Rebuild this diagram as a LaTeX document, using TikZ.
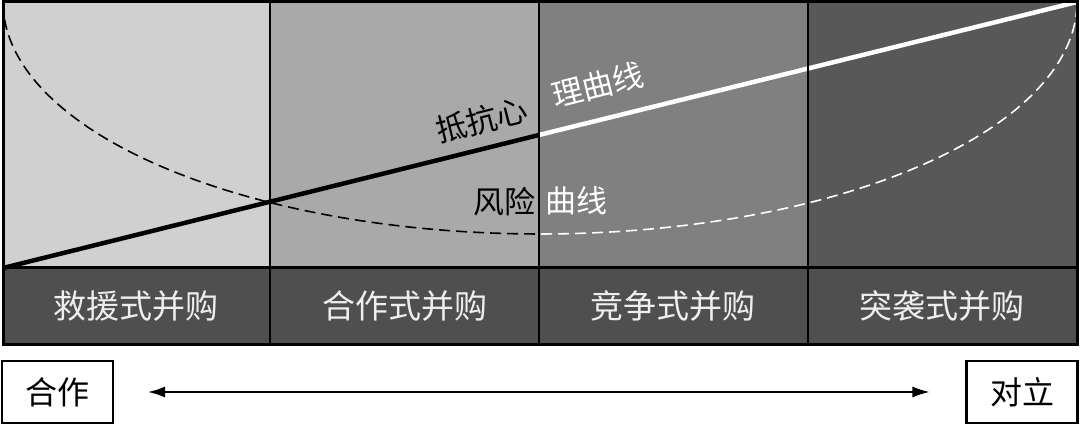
\documentclass[tikz,border=0pt]{standalone}
\usepackage{fontspec}
\newfontfamily\cjk{Noto Sans CJK SC}
\usetikzlibrary{arrows.meta}
\definecolor{colA}{HTML}{D0D0D0}
\definecolor{colB}{HTML}{A9A9A9}
\definecolor{colC}{HTML}{808080}
\definecolor{colD}{HTML}{585858}
\definecolor{band}{HTML}{4F4F4F}
\definecolor{bandtext}{HTML}{EEEEEE}
\tikzset{
  panel/.style={draw=black, line width=3pt},
  bandlabel/.style={text=bandtext, font=\cjk\fontsize{33}{33}\selectfont, inner sep=0pt},
  curvelabel/.style={font=\cjk\fontsize{31}{31}\selectfont, inner sep=0pt},
  endbox/.style={draw=black, line width=2.2pt, fill=white, font=\cjk\fontsize{32}{32}\selectfont, minimum width=111pt, minimum height=62pt, inner sep=0pt},
  riskcurve/.style={line width=1.6pt, dash pattern=on 11pt off 6pt},
  resist/.style={line width=4.5pt}
}
\begin{document}
\begin{tikzpicture}[x=1pt,y=-1pt]
\useasboundingbox (0,0) rectangle (1080,427);
% columns
\fill[colA] (3,2) rectangle (270,268);
\fill[colB] (270,2) rectangle (539,268);
\fill[colC] (539,2) rectangle (808,268);
\fill[colD] (808,2) rectangle (1077,268);
% band
\fill[band] (3,268) rectangle (1077,345);
% risk curve (half ellipse)
\begin{scope}
\clip (3,0) rectangle (539,268);
\draw[riskcurve, black] plot[domain=180:360, samples=160] ({540+537*cos(\x)}, {2-232*sin(\x)});
\end{scope}
\begin{scope}
\clip (539,0) rectangle (1077,268);
\draw[riskcurve, white] plot[domain=180:360, samples=160] ({540+537*cos(\x)}, {2-232*sin(\x)});
\end{scope}
% resistance line
\coordinate (r0) at (3,268);
\coordinate (rm) at (539,135);
\coordinate (r1) at (1077,2);
\draw[resist, black] (r0) -- (rm);
\draw[resist, white] (rm) -- (r1);
% grid lines
\draw[line width=2.5pt] (270,2) -- (270,345) (539,2) -- (539,345) (808,2) -- (808,345);
\draw[line width=3pt] (3,268) -- (1077,268);
\draw[panel] (3,2) rectangle (1077,345);
% curve labels
\node[curvelabel, text=black, rotate=14] (l1) at (482,120) {抵抗心};
\node[curvelabel, text=white, rotate=14] (l2) at (598,85) {理曲线};
\node[curvelabel, text=black] (l3) at (504,202) {风险};
\node[curvelabel, text=white] (l4) at (576,201) {曲线};
% band labels
\node[bandlabel] (b1) at (136,306) {救援式并购};
\node[bandlabel] (b2) at (405,306) {合作式并购};
\node[bandlabel] (b3) at (673,306) {竞争式并购};
\node[bandlabel] (b4) at (942,306) {突袭式并购};
% bottom
\node[endbox] (coop) at (57.5,392) {合作};
\node[endbox] (opp) at (1022,392) {对立};
\draw[line width=1.3pt, {Latex[length=17pt,width=11pt]}-{Latex[length=17pt,width=11pt]}] ([xshift=34pt]coop.east) -- ([xshift=-36pt]opp.west);
\end{tikzpicture}
\end{document}
